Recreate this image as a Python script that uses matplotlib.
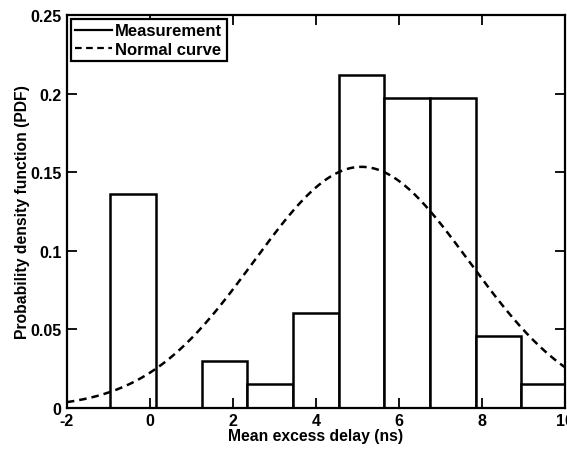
import numpy as np
import matplotlib.pyplot as plt

# histogram bins (ns) and PDF heights
bin_edges = [-0.95, 0.15, 1.25, 2.35, 3.45, 4.55, 5.65, 6.75, 7.85, 8.95, 10.05]
pdf_heights = [0.136, 0.0, 0.030, 0.0152, 0.0606, 0.212, 0.197, 0.197, 0.0455, 0.0152]

# fitted normal curve parameters
mu = 5.1
sigma = 2.6

xticks = [-2, 0, 2, 4, 6, 8, 10]
yticks = [0, 0.05, 0.1, 0.15, 0.2, 0.25]
ytick_labels = ["0", "0.05", "0.1", "0.15", "0.2", "0.25"]

plt.rcParams["font.family"] = ["Liberation Sans", "DejaVu Sans"]
plt.rcParams["font.weight"] = "bold"
plt.rcParams["axes.unicode_minus"] = False

fig = plt.figure(figsize=(5.67, 4.6), dpi=100)
ax = fig.add_axes([0.118, 0.111, 0.878, 0.854])

edges = np.array(bin_edges)
widths = np.diff(edges)
ax.bar(edges[:-1], pdf_heights, width=widths, align="edge", facecolor="white",
       edgecolor="black", linewidth=1.8, label="Measurement")

xs = np.linspace(-2, 10, 300)
pdf = np.exp(-(xs - mu) ** 2 / (2 * sigma ** 2)) / (sigma * np.sqrt(2 * np.pi))
ax.plot(xs, pdf, color="black", linestyle=(0, (3, 2)), linewidth=1.8, label="Normal curve")

ax.set_xlim(-2, 10)
ax.set_ylim(0, 0.25)
ax.set_xticks(xticks)
ax.set_yticks(yticks)
ax.set_yticklabels(ytick_labels)
ax.tick_params(direction="in", top=True, right=True, length=7, width=1.3, labelsize=11.5)
ax.tick_params(axis="x", pad=4)
ax.tick_params(axis="y", pad=4)
for s in ax.spines.values():
    s.set_linewidth(1.6)

ax.set_xlabel("Mean excess delay (ns)", fontsize=11.3, fontweight="bold", labelpad=0)
ax.set_ylabel("Probability density function (PDF)", fontsize=11.3, fontweight="bold", labelpad=0)

h1 = plt.Line2D([], [], color="black", linewidth=1.6)
h2 = plt.Line2D([], [], color="black", linestyle=(0, (3, 2)), linewidth=1.6)
leg = ax.legend([h1, h2], ["Measurement", "Normal curve"], loc="upper left",
                fancybox=False, edgecolor="black", framealpha=1, fontsize=12,
                handlelength=2.2, handletextpad=0.2, borderpad=0.25,
                labelspacing=0.2, borderaxespad=0.25)
leg.get_frame().set_linewidth(1.6)

plt.savefig("out.png", dpi=100)
